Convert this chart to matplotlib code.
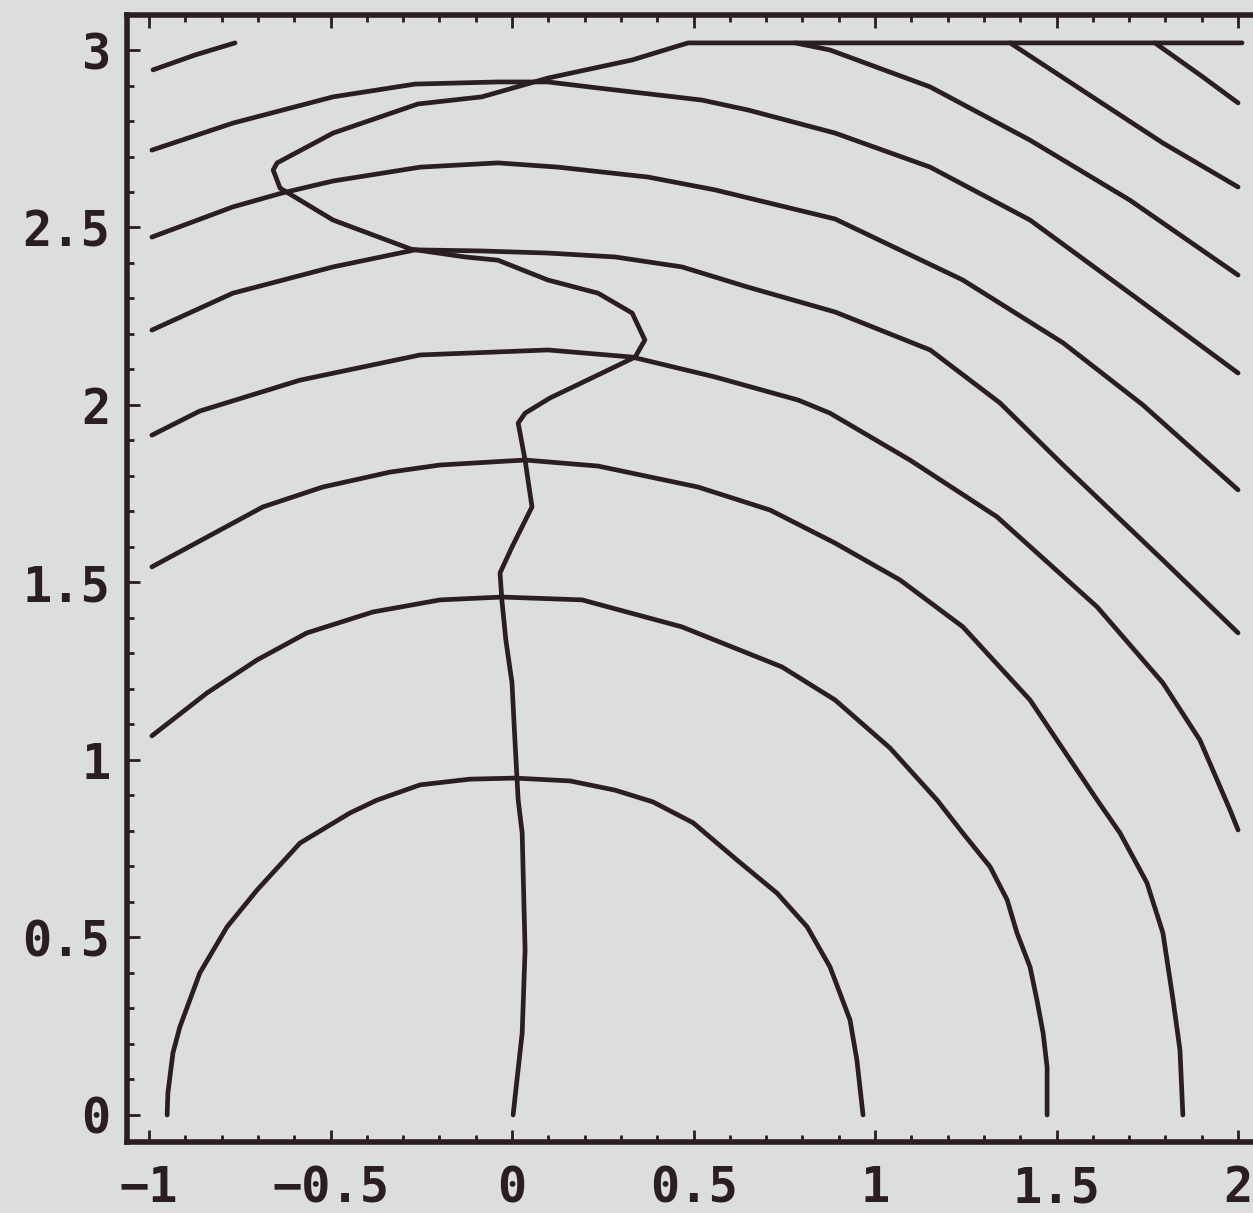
import matplotlib.pyplot as plt
from matplotlib.ticker import MultipleLocator

# wavefront curves (x, y in plot units)
c1_x = [-0.95, -0.948, -0.934, -0.915, -0.86, -0.785, -0.702, -0.584, -0.446, -0.372, -0.253, -0.116, 0.008,
        0.16, 0.284, 0.388, 0.499, 0.62, 0.73, 0.813, 0.876, 0.931, 0.95, 0.967]
c1_y = [0.0, 0.062, 0.175, 0.248, 0.4, 0.53, 0.634, 0.766, 0.851, 0.887, 0.93, 0.946, 0.949,
        0.941, 0.915, 0.882, 0.823, 0.718, 0.625, 0.53, 0.417, 0.268, 0.155, 0.0]

c2_x = [-0.992, -0.84, -0.702, -0.565, -0.383, -0.198, -0.028, 0.193, 0.468, 0.744, 0.89, 1.041, 1.171,
        1.242, 1.317, 1.364, 1.391, 1.427, 1.446, 1.463, 1.474, 1.474]
c2_y = [1.068, 1.189, 1.282, 1.358, 1.417, 1.451, 1.459, 1.451, 1.375, 1.262, 1.169, 1.034, 0.887,
        0.794, 0.699, 0.606, 0.513, 0.417, 0.324, 0.231, 0.135, 0.0]

c3_x = [-0.992, -0.84, -0.686, -0.521, -0.336, -0.198, 0.036, 0.237, 0.512, 0.711, 0.89, 1.069, 1.242,
        1.427, 1.612, 1.675, 1.749, 1.793, 1.821, 1.84, 1.848]
c3_y = [1.544, 1.628, 1.713, 1.769, 1.811, 1.831, 1.845, 1.828, 1.769, 1.704, 1.611, 1.507, 1.375,
        1.169, 0.887, 0.794, 0.654, 0.513, 0.324, 0.183, 0.0]

c4_x = [-0.992, -0.86, -0.584, -0.253, 0.099, 0.331, 0.559, 0.788, 0.876, 1.096, 1.336, 1.612, 1.793, 1.895, 1.978, 2.0]
c4_y = [1.915, 1.983, 2.07, 2.141, 2.155, 2.135, 2.079, 2.014, 1.977, 1.845, 1.685, 1.431, 1.217, 1.056, 0.859, 0.803]

c5_x = [-0.992, -0.769, -0.493, -0.267, -0.088, 0.099, 0.284, 0.468, 0.65, 0.89, 1.152, 1.344, 1.518, 1.793, 2.0]
c5_y = [2.211, 2.315, 2.389, 2.437, 2.434, 2.428, 2.417, 2.389, 2.332, 2.262, 2.155, 2.006, 1.831, 1.563, 1.358]

c6_x = [-0.992, -0.769, -0.634, -0.493, -0.253, -0.039, 0.127, 0.375, 0.559, 0.89, 1.242, 1.518, 1.738, 2.0]
c6_y = [2.473, 2.558, 2.597, 2.631, 2.67, 2.682, 2.67, 2.642, 2.606, 2.524, 2.352, 2.175, 2.0, 1.761]

c7_x = [-0.992, -0.769, -0.493, -0.267, -0.039, 0.099, 0.237, 0.523, 0.65, 0.89, 1.152, 1.427, 1.702, 2.0]
c7_y = [2.718, 2.794, 2.868, 2.904, 2.91, 2.91, 2.893, 2.859, 2.831, 2.766, 2.67, 2.521, 2.315, 2.09]

c8_x = [0.78, 0.876, 1.152, 1.427, 1.702, 2.0]
c8_y = [3.02, 3.0, 2.896, 2.746, 2.577, 2.366]

c9_x = [1.372, 1.612, 1.793, 2.0]
c9_y = [3.02, 2.859, 2.738, 2.614]

c10_x = [1.771, 1.895, 2.0]
c10_y = [3.02, 2.93, 2.851]

c11_x = [-0.989, -0.873, -0.763]
c11_y = [2.944, 2.986, 3.02]

# the ray
ray_x = [0.003, 0.028, 0.036, 0.028, 0.017, 0.008, 0.0, -0.017, -0.028, -0.033, 0.0, 0.055, 0.044, 0.036,
         0.017, 0.036, 0.105, 0.248, 0.339, 0.366, 0.331, 0.237, 0.099, -0.039, -0.129, -0.278, -0.493,
         -0.584, -0.639, -0.658, -0.647, -0.493, -0.259, -0.083, 0.099, 0.331, 0.485, 2.011]
ray_y = [0.0, 0.231, 0.465, 0.794, 0.887, 1.056, 1.217, 1.338, 1.451, 1.527, 1.6, 1.713, 1.789, 1.845,
         1.949, 1.977, 2.02, 2.09, 2.135, 2.183, 2.259, 2.315, 2.352, 2.408, 2.417, 2.439, 2.521,
         2.577, 2.611, 2.662, 2.682, 2.766, 2.848, 2.868, 2.921, 2.972, 3.02, 3.02]

x_ticks = [-1, -0.5, 0, 0.5, 1, 1.5, 2]
x_labels = ['\u22121', '\u22120.5', '0', '0.5', '1', '1.5', '2']
y_ticks = [0, 0.5, 1, 1.5, 2, 2.5, 3]
y_labels = ['0', '0.5', '1', '1.5', '2', '2.5', '3']

bg = '#dcdddd'
ink = '#2b1e20'

fig = plt.figure(figsize=(12.53, 12.13), dpi=100, facecolor=bg)
# right edge of the frame falls outside the scan, like the original
ax = fig.add_axes([127 / 1253, 71 / 1213, (1262 - 127) / 1253, (1142 - 15) / 1213])
ax.set_facecolor(bg)

curves = [(c1_x, c1_y), (c2_x, c2_y), (c3_x, c3_y), (c4_x, c4_y), (c5_x, c5_y), (c6_x, c6_y),
          (c7_x, c7_y), (c8_x, c8_y), (c9_x, c9_y), (c10_x, c10_y), (c11_x, c11_y), (ray_x, ray_y)]
for cx, cy in curves:
    ax.plot(cx, cy, color=ink, linewidth=3.4, solid_capstyle='round', solid_joinstyle='round')

ax.set_xlim(-1.0606, 2.066)
ax.set_ylim(-0.0761, 3.0986)

ax.set_xticks(x_ticks)
ax.set_xticklabels(x_labels)
ax.set_yticks(y_ticks)
ax.set_yticklabels(y_labels)
ax.xaxis.set_minor_locator(MultipleLocator(0.1))
ax.yaxis.set_minor_locator(MultipleLocator(0.1))

ax.tick_params(which='both', direction='in', top=True, right=False, color=ink, width=2)
ax.tick_params(which='major', length=9)
ax.tick_params(which='minor', length=5)
ax.tick_params(axis='x', pad=16)
ax.tick_params(axis='y', pad=12)
for lab in ax.get_xticklabels() + ax.get_yticklabels():
    lab.set_fontfamily('DejaVu Sans Mono')
    lab.set_fontweight('bold')
    lab.set_fontsize(35)
    lab.set_color(ink)

for sp in ax.spines.values():
    sp.set_color(ink)
    sp.set_linewidth(4)

plt.savefig('out.png', dpi=100, facecolor=bg)
